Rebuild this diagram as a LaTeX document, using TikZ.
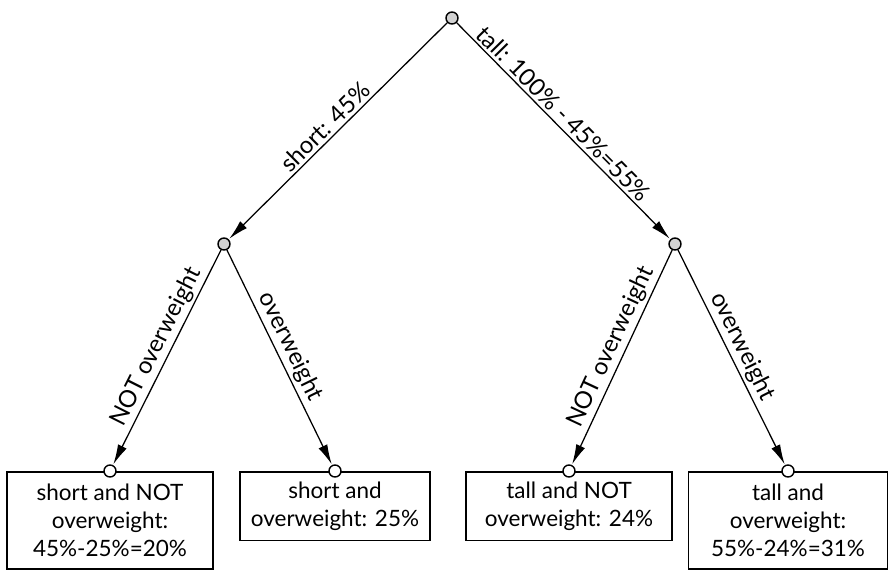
\documentclass[tikz,border=0pt]{standalone}
\usepackage{fontspec}
\setmainfont{Lato}
\usetikzlibrary{arrows.meta}

\begin{document}
\begin{tikzpicture}[
    x=0.025cm, y=-0.025cm,
    dotnode/.style={circle, draw=black, line width=1pt, fill=gray!35, inner sep=0pt, minimum size=0.3cm},
    leafdot/.style={dotnode, fill=white},
    boxnode/.style={rectangle, draw=black, line width=1.1pt, align=center, anchor=north, inner sep=2pt, font=\fontsize{16}{20}\selectfont},
    branch/.style={-{Latex[length=5mm,width=2.4mm]}, line width=0.9pt, shorten >=0.5pt},
    edgelabel/.style={pos=0.48, sloped, above, inner sep=2pt, font=\fontsize{17}{20}\selectfont}
  ]
  \useasboundingbox (0,0) rectangle (889,575);

  %Nodes
  \node[dotnode] at (452,18) (root) {};
  \node[dotnode] at (224,244) (s) {};
  \node[dotnode] at (675,244) (t) {};

  \node[boxnode, minimum width=5.15cm, minimum height=2.43cm] at (110,471) (sn) {short and NOT\\overweight:\\45\%-25\%=20\%};
  \node[boxnode, minimum width=4.75cm, minimum height=1.72cm] at (335,471) (so) {short and\\overweight: 25\%};
  \node[boxnode, minimum width=5.15cm, minimum height=1.72cm] at (569,471) (tn) {tall and NOT\\overweight: 24\%};
  \node[boxnode, minimum width=4.98cm, minimum height=2.43cm] at (788,471) (to) {tall and\\overweight:\\55\%-24\%=31\%};

  \node[leafdot] at (sn.north) (snd) {};
  \node[leafdot] at (so.north) (sod) {};
  \node[leafdot] at (tn.north) (tnd) {};
  \node[leafdot] at (to.north) (tod) {};

  %Lines
  \draw[branch] (root) -- (s) node[edgelabel, pos=0.52] {short: 45\%};
  \draw[branch] (root) -- (t) node[edgelabel, pos=0.46] {tall: 100\% - 45\%=55\%};
  \draw[branch] (s) -- (snd) node[edgelabel] {NOT overweight};
  \draw[branch] (s) -- (sod) node[edgelabel] {overweight};
  \draw[branch] (t) -- (tnd) node[edgelabel] {NOT overweight};
  \draw[branch] (t) -- (tod) node[edgelabel] {overweight};

\end{tikzpicture}
\end{document}
